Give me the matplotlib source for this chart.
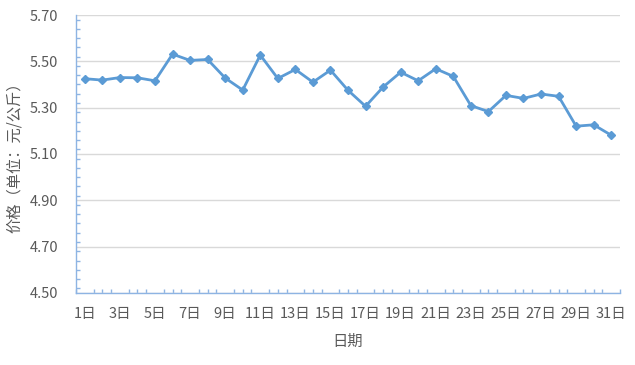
import numpy as np
import matplotlib
matplotlib.use("Agg")
import matplotlib.pyplot as plt
from matplotlib.ticker import MultipleLocator

plt.rcParams['font.family'] = ['Noto Sans CJK SC', 'DejaVu Sans']

# ── data ─────────────────────────────────────────────────────────────────────
days = list(range(1, 32))
prices = [5.425, 5.419, 5.430, 5.429, 5.416, 5.531, 5.504, 5.508, 5.428, 5.376,
          5.527, 5.426, 5.465, 5.410, 5.462, 5.375, 5.306, 5.389, 5.453, 5.416,
          5.468, 5.435, 5.309, 5.283, 5.353, 5.340, 5.359, 5.349, 5.220, 5.226,
          5.181]
tick_days = days[::2]
tick_labels = [f"{d}日" for d in tick_days]
y_ticks = [4.50, 4.70, 4.90, 5.10, 5.30, 5.50, 5.70]

# ── plot ─────────────────────────────────────────────────────────────────────
fig = plt.figure(figsize=(6.35, 3.65), dpi=100)
ax = fig.add_axes([0.1197, 0.1973, 0.8567, 0.7616])

line_c = '#5B9BD5'
ax.plot(days, prices, color=line_c, linewidth=2, marker='D', markersize=4.5,
        markerfacecolor=line_c, markeredgecolor=line_c, zorder=3)

ax.set_xlim(0.5, 31.5)
ax.set_ylim(4.50, 5.70)
ax.set_yticks(y_ticks)
ax.set_yticklabels([f"{v:.2f}" for v in y_ticks])
ax.yaxis.set_minor_locator(MultipleLocator(0.04))
ax.set_xticks(tick_days)
ax.set_xticklabels(tick_labels)
ax.xaxis.set_minor_locator(MultipleLocator(0.5))

ax.grid(axis='y', which='major', color='#d9d9d9', linewidth=1, zorder=0)
for s in ['top', 'right']:
    ax.spines[s].set_visible(False)
for s in ['left', 'bottom']:
    ax.spines[s].set_color('#8eb4e3')
    ax.spines[s].set_linewidth(1)

ax.tick_params(axis='both', which='major', length=0, labelsize=10.5,
               labelcolor='#595959')
ax.tick_params(axis='y', which='major', pad=13)
ax.tick_params(axis='x', which='major', pad=10)
ax.tick_params(axis='y', which='minor', direction='in', length=3,
               color='#8eb4e3', width=1)
ax.tick_params(axis='x', which='minor', direction='in', length=3,
               color='#8eb4e3', width=1)

ax.set_xlabel("日期", fontsize=11, color='#595959', labelpad=9)
ax.set_ylabel("价格（单位：元/公斤）", fontsize=11, color='#595959')
ax.yaxis.set_label_coords(-0.098, 0.5)

plt.savefig("out.png", dpi=100)
